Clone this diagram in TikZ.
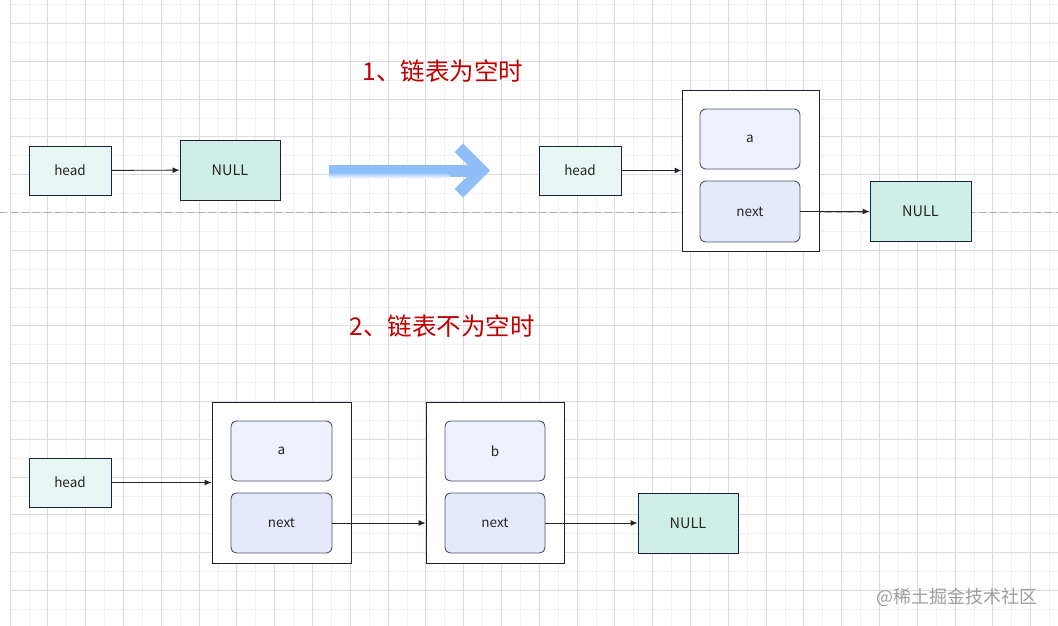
\documentclass[tikz,border=0pt]{standalone}
\usepackage{fontspec}
\setmainfont{Noto Sans CJK SC}
\usetikzlibrary{arrows.meta}
\definecolor{headFill}{HTML}{E8F6F3}
\definecolor{nullFill}{HTML}{CFEFE6}
\definecolor{dataFill}{HTML}{EEF1FD}
\definecolor{nextFill}{HTML}{E6E9FB}
\definecolor{boxBorder}{HTML}{1B1F3B}
\definecolor{fieldBorder}{HTML}{50556A}
\definecolor{titleRed}{HTML}{C00000}
\definecolor{arrowBlue}{HTML}{8FBEF8}
\definecolor{gridMajor}{HTML}{DBDBDB}
\definecolor{gridMinor}{HTML}{F0F0F0}
\tikzset{
  boxtext/.style={text=black!85, font=\fontsize{13.5}{16}\selectfont},
  headbox/.style={boxtext, draw=boxBorder, line width=0.9pt, fill=headFill, inner sep=0pt, minimum width=82pt, minimum height=49pt},
  nullbox/.style={boxtext, draw=boxBorder, line width=0.9pt, fill=nullFill, inner sep=0pt, minimum width=100pt, minimum height=60pt, font=\fontsize{14.5}{17}\selectfont},
  nodeframe/.style={draw=boxBorder, line width=0.9pt, fill=white, inner sep=0pt, minimum width=138pt, minimum height=161pt},
  fieldbox/.style={boxtext, draw=fieldBorder, line width=0.9pt, rounded corners=6pt, inner sep=0pt, minimum width=100pt, minimum height=60pt},
  datafield/.style={fieldbox, fill=dataFill},
  nextfield/.style={fieldbox, fill=nextFill},
  link/.style={draw=black!85, line width=0.9pt, -{Latex[length=7pt,width=6pt]}},
  caption/.style={text=titleRed, font=\fontsize{24.5}{29}\selectfont},
}
\begin{document}
\begin{tikzpicture}[x=1pt, y=-1pt]
\useasboundingbox (0,0) rectangle (1058,626);
\fill[white] (0,0) rectangle (1058,626);
% Background grid
\begin{scope}
  \clip (0,0) rectangle (1058,626);
  \begin{scope}[shift={(10,4.5)}, x=18.9pt, y=-18.9pt, line cap=butt]
    % Minor vertical lines
    \begin{scope}[draw=gridMinor, line width=0.6pt]
      \draw (1,-0.3) -- (1,33);
      \draw (3,-0.3) -- (3,33);
      \draw (5,-0.3) -- (5,33);
      \draw (7,-0.3) -- (7,33);
      \draw (9,-0.3) -- (9,33);
      \draw (11,-0.3) -- (11,33);
      \draw (13,-0.3) -- (13,33);
      \draw (15,-0.3) -- (15,33);
      \draw (17,-0.3) -- (17,33);
      \draw (19,-0.3) -- (19,33);
      \draw (21,-0.3) -- (21,33);
      \draw (23,-0.3) -- (23,33);
      \draw (25,-0.3) -- (25,33);
      \draw (27,-0.3) -- (27,33);
      \draw (29,-0.3) -- (29,33);
      \draw (31,-0.3) -- (31,33);
      \draw (33,-0.3) -- (33,33);
      \draw (35,-0.3) -- (35,33);
      \draw (37,-0.3) -- (37,33);
      \draw (39,-0.3) -- (39,33);
      \draw (41,-0.3) -- (41,33);
      \draw (43,-0.3) -- (43,33);
      \draw (45,-0.3) -- (45,33);
      \draw (47,-0.3) -- (47,33);
      \draw (49,-0.3) -- (49,33);
      \draw (51,-0.3) -- (51,33);
      \draw (53,-0.3) -- (53,33);
      \draw (55,-0.3) -- (55,33);
    \end{scope}
    % Minor horizontal lines
    \begin{scope}[draw=gridMinor, line width=0.6pt]
      \draw (0,0) -- (55.5,0);
      \draw (0,2) -- (55.5,2);
      \draw (0,4) -- (55.5,4);
      \draw (0,6) -- (55.5,6);
      \draw (0,8) -- (55.5,8);
      \draw (0,10) -- (55.5,10);
      \draw (0,12) -- (55.5,12);
      \draw (0,14) -- (55.5,14);
      \draw (0,16) -- (55.5,16);
      \draw (0,18) -- (55.5,18);
      \draw (0,20) -- (55.5,20);
      \draw (0,22) -- (55.5,22);
      \draw (0,24) -- (55.5,24);
      \draw (0,26) -- (55.5,26);
      \draw (0,28) -- (55.5,28);
      \draw (0,30) -- (55.5,30);
      \draw (0,32) -- (55.5,32);
    \end{scope}
    % Major vertical lines
    \begin{scope}[draw=gridMajor, line width=0.8pt]
      \draw (0,-0.3) -- (0,33);
      \draw (2,-0.3) -- (2,33);
      \draw (4,-0.3) -- (4,33);
      \draw (6,-0.3) -- (6,33);
      \draw (8,-0.3) -- (8,33);
      \draw (10,-0.3) -- (10,33);
      \draw (12,-0.3) -- (12,33);
      \draw (14,-0.3) -- (14,33);
      \draw (16,-0.3) -- (16,33);
      \draw (18,-0.3) -- (18,33);
      \draw (20,-0.3) -- (20,33);
      \draw (22,-0.3) -- (22,33);
      \draw (24,-0.3) -- (24,33);
      \draw (26,-0.3) -- (26,33);
      \draw (28,-0.3) -- (28,33);
      \draw (30,-0.3) -- (30,33);
      \draw (32,-0.3) -- (32,33);
      \draw (34,-0.3) -- (34,33);
      \draw (36,-0.3) -- (36,33);
      \draw (38,-0.3) -- (38,33);
      \draw (40,-0.3) -- (40,33);
      \draw (42,-0.3) -- (42,33);
      \draw (44,-0.3) -- (44,33);
      \draw (46,-0.3) -- (46,33);
      \draw (48,-0.3) -- (48,33);
      \draw (50,-0.3) -- (50,33);
      \draw (52,-0.3) -- (52,33);
      \draw (54,-0.3) -- (54,33);
    \end{scope}
    % Major horizontal lines
    \begin{scope}[draw=gridMajor, line width=0.8pt]
      \draw (0,1) -- (55.5,1);
      \draw (0,3) -- (55.5,3);
      \draw (0,5) -- (55.5,5);
      \draw (0,7) -- (55.5,7);
      \draw (0,9) -- (55.5,9);
      \draw (0,11) -- (55.5,11);
      \draw (0,13) -- (55.5,13);
      \draw (0,15) -- (55.5,15);
      \draw (0,17) -- (55.5,17);
      \draw (0,19) -- (55.5,19);
      \draw (0,21) -- (55.5,21);
      \draw (0,23) -- (55.5,23);
      \draw (0,25) -- (55.5,25);
      \draw (0,27) -- (55.5,27);
      \draw (0,29) -- (55.5,29);
      \draw (0,31) -- (55.5,31);
    \end{scope}
  \end{scope}
\end{scope}
% Page break line
\draw[draw=black!32, line width=0.8pt, dash pattern=on 7pt off 4pt] (0,212.5) -- (1058,212.5);
% Captions
\node[caption] (cap1) at (443,71) {1、链表为空时};
\node[caption] (cap2) at (442,326) {2、链表不为空时};
% Case 1, before insertion
\node[headbox] (headA) at (70,170.5) {head};
\node[nullbox] (nullA) at (230,170) {NULL};
\draw[link] (headA) -- (nullA);
% Big transition arrow
\fill[arrowBlue] (329,165) rectangle (476,172.5);
\shade[top color=arrowBlue, bottom color=white] (329,172.4) rectangle (450,178.5);
\fill[arrowBlue] (450,172.4) rectangle (476,176.5);
\fill[arrowBlue] (490,170.5) -- (463,143.5) -- (454.5,152) -- (473,170.5) -- (454.5,189) -- (463,197.5) -- cycle;
% Case 1, after insertion
\node[headbox] (headB) at (580,170.5) {head};
\node[nodeframe, minimum width=137pt] (frameB) at (750.5,170.5) {};
\node[datafield] (dataB) at (750,139) {a};
\node[nextfield, minimum height=61pt] (nextB) at (750,211.5) {next};
\node[nullbox, minimum width=101pt] (nullB) at (920.5,211) {NULL};
\draw[link] (headB) -- (frameB);
\draw[link] (nextB.east) -- (nextB.east -| nullB.west);
% Case 2
\node[headbox] (headC) at (70,482.5) {head};
\node[nodeframe, minimum width=139pt] (frameC) at (281.5,482.5) {};
\node[datafield, minimum width=101pt] (dataC) at (281.5,451) {a};
\node[nextfield, minimum width=101pt] (nextC) at (281.5,523) {next};
\node[nodeframe] (frameD) at (495,482.5) {};
\node[datafield] (dataD) at (495,451) {b};
\node[nextfield] (nextD) at (495,523) {next};
\node[nullbox] (nullD) at (688,523) {NULL};
\draw[link] (headC) -- (frameC);
\draw[link] (nextC.east) -- (nextC.east -| frameD.west);
\draw[link] (nextD) -- (nullD);
% Watermark
\node[text=black!38, font=\fontsize{18}{21}\selectfont, anchor=east] (mark) at (1041,597) {@稀土掘金技术社区};
\end{tikzpicture}
\end{document}
